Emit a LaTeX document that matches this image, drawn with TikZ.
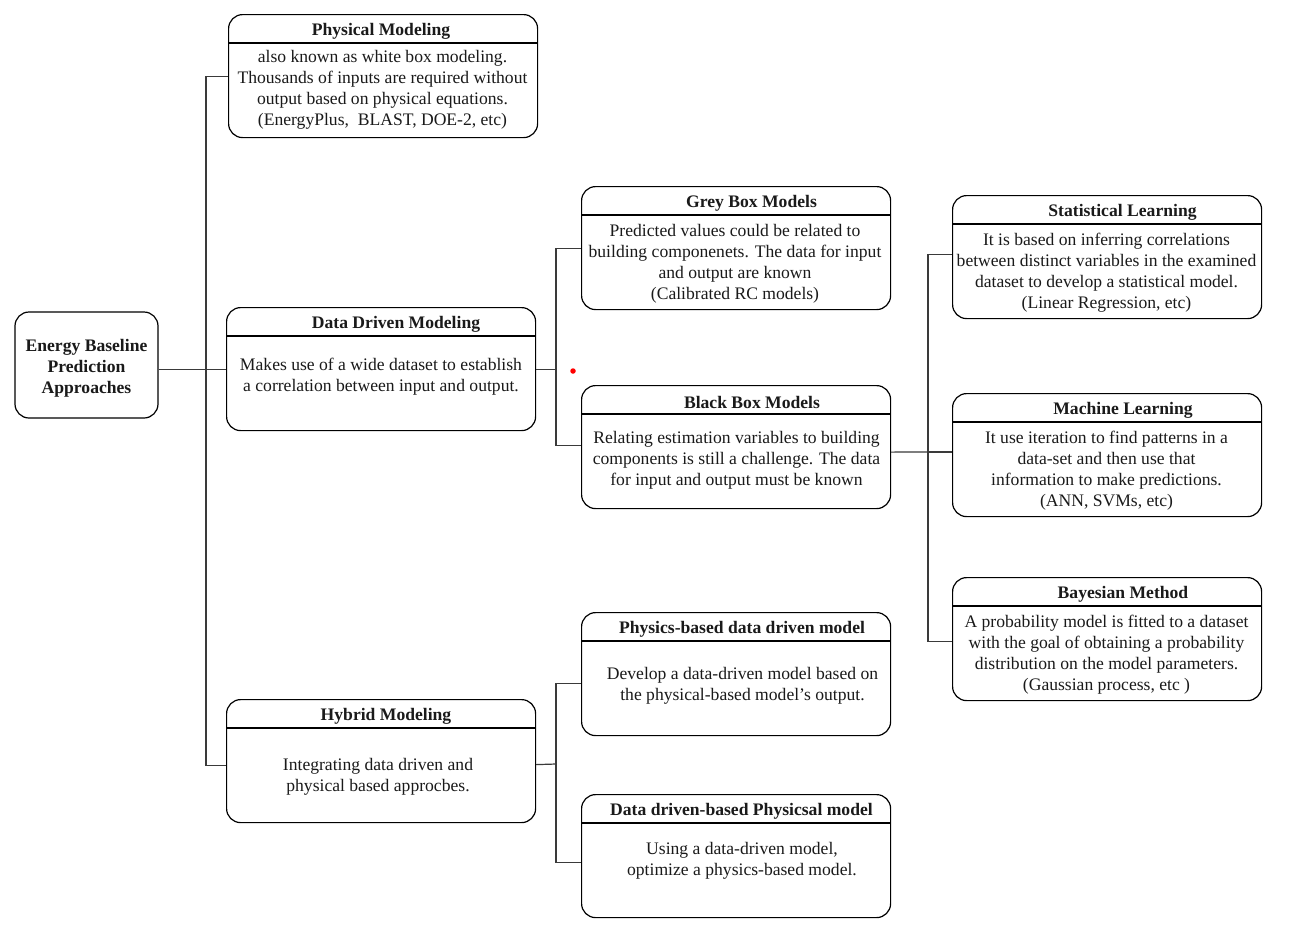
\documentclass[tikz,border=0pt]{standalone}
\usepackage{fontspec}
\setmainfont{Liberation Serif}
\definecolor{lnk}{HTML}{3A3A3A}
\definecolor{txt}{HTML}{1A1A1A}
\tikzset{
  card/.style={draw=black, line width=1.2pt, rounded corners=14pt, minimum width=309pt, minimum height=123pt, inner sep=0pt},
  rootbox/.style={draw=black, line width=1.2pt, rounded corners=14pt, minimum width=143pt, minimum height=106pt, inner sep=0pt, align=center, font=\fontsize{17.6}{21}\selectfont\bfseries, text=txt},
  cardline/.style={draw=black, line width=1.2pt},
  ttl/.style={font=\fontsize{17.6}{21}\selectfont\bfseries, text=txt, inner sep=0pt},
  bdy/.style={font=\fontsize{17.6}{21}\selectfont, align=center, text=txt, inner sep=0pt},
  link/.style={draw=lnk, line width=1.2pt}
}
\newcommand\mycard[8]{%
  \node[card, anchor=north west] (#1) at (#2,#3) {};
  \draw[cardline] ([yshift=-29pt]#1.north west) -- ([yshift=-29pt]#1.north east);
  \node[ttl] (#1-t) at (#4,#3+17) {#5};
  \node[bdy] (#1-b) at (#6,#7+2.5) {#8};
}
\begin{document}
\begin{tikzpicture}[x=1pt,y=-1pt]
\useasboundingbox[fill=white] (0,0) rectangle (1293,930);

\node[rootbox] (root) at (86.5,365) {};
\node[bdy, font=\fontsize{17.6}{21}\selectfont\bfseries] (root-t) at (86.5,368) {Energy Baseline\\Prediction\\Approaches};

\mycard{phys}{228}{14}{381}{Physical Modeling}{382.5}{87}{also known as white box modeling.\\Thousands of inputs are required without\\output based on physical equations.\\(EnergyPlus,\ \ BLAST, DOE-2, etc)}
\mycard{dd}{226}{307}{396}{Data Driven Modeling}{381}{374}{Makes use of a wide dataset to establish\\a correlation between input and output.}
\mycard{hyb}{226}{699}{386}{Hybrid Modeling}{378}{774.5}{Integrating data driven and\\physical based approcbes.}
\mycard{grey}{581}{186}{751.5}{Grey Box Models}{735}{261.5}{Predicted values could be related to\\building componenets. The data for input\\and output are known\\(Calibrated RC models)}
\mycard{black}{581}{385}{752}{Black Box Models}{736.5}{458}{Relating estimation variables to building\\components is still a challenge. The data\\for input and output must be known}
\mycard{pb}{581}{612}{742}{Physics-based data driven model}{742.5}{683.5}{Develop a data-driven model based on\\the physical-based model's output.}
\mycard{ddb}{581}{794}{741.5}{Data driven-based Physicsal model}{742}{858.5}{Using a data-driven model,\\optimize a physics-based model.}
\mycard{stat}{952}{195}{1122.5}{Statistical Learning}{1106.5}{270.5}{It is based on inferring correlations\\between distinct variables in the examined\\dataset to develop a statistical model.\\(Linear Regression, etc)}
\mycard{ml}{952}{393}{1123}{Machine Learning}{1106.5}{468.5}{It use iteration to find patterns in a\\data-set and then use that\\information to make predictions.\\(ANN, SVMs, etc)}
\mycard{bay}{952}{577}{1123}{Bayesian Method}{1106.5}{652}{A probability model is fitted to a dataset\\with the goal of obtaining a probability\\distribution on the model parameters.\\(Gaussian process, etc )}

% attachment points
\coordinate (hybin) at ([yshift=-4pt]hyb.west);
\coordinate (blackin) at ([yshift=2pt]black.west);
\coordinate (blackout) at ([yshift=-5pt]black.east);
\coordinate (statin) at ([yshift=3pt]stat.west);
\coordinate (bayin) at ([yshift=-2pt]bay.west);
\coordinate (hybout) at ([yshift=-3.5pt]hyb.east);
\coordinate (pbin) at ([yshift=-9.5pt]pb.west);
\coordinate (ddbin) at ([yshift=-6.5pt]ddb.west);

% trunk 1
\coordinate (j1) at (206,369);
\draw[link] (root.east |- dd.west) -- (dd.west);
\draw[link] (phys.west) -- (j1 |- phys.west) -- (j1 |- hybin) -- (hybin);

% trunk 2
\coordinate (j2) at (556,369);
\draw[link] (dd.east) -- (j2 |- dd.east);
\draw[link] (grey.west) -- (j2 |- grey.west) -- (j2 |- blackin) -- (blackin);

% trunk 3
\coordinate (j3) at (928,452);
\draw[link] (blackout) -- (j3);
\draw[link] (statin) -- (j3 |- statin) -- (j3 |- bayin) -- (bayin);
\draw[link] (j3) -- (j3 -| ml.west);

% trunk 4
\coordinate (j4) at (556,764);
\draw[link] (hybout) -- (j4);
\draw[link] (pbin) -- (j4 |- pbin) -- (j4 |- ddbin) -- (ddbin);

\node[circle, fill=red, inner sep=0pt, minimum size=5.5pt] (dot) at (573,371) {};
\end{tikzpicture}
\end{document}
